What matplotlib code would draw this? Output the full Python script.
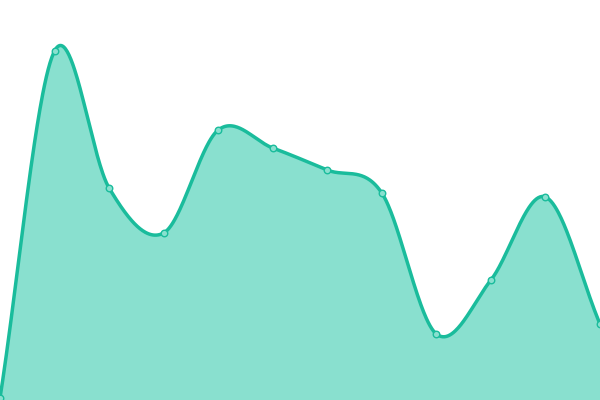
import numpy as np
import matplotlib
matplotlib.use("Agg")
import matplotlib.pyplot as plt

categories = list(range(12))
values = [2, 349, 212, 167, 270, 252, 230, 207, 66, 120, 203, 76]

LINE = "#1abc9c"
FILL = "#89e0cf"

def catmull_rom(xs, ys, n=60):
    xs = np.asarray(xs, float); ys = np.asarray(ys, float)
    ox, oy = [], []
    N = len(xs)
    for i in range(N - 1):
        p0 = i - 1 if i > 0 else i
        p3 = i + 2 if i + 2 < N else i + 1
        mx1 = (xs[i + 1] - xs[p0]) / 2 if i > 0 else (xs[i + 1] - xs[i])
        my1 = (ys[i + 1] - ys[p0]) / 2 if i > 0 else (ys[i + 1] - ys[i])
        mx2 = (xs[p3] - xs[i]) / 2 if i + 2 < N else (xs[i + 1] - xs[i])
        my2 = (ys[p3] - ys[i]) / 2 if i + 2 < N else (ys[i + 1] - ys[i])
        t = np.linspace(0, 1, n, endpoint=(i == N - 2))
        h00 = 2*t**3 - 3*t**2 + 1
        h10 = t**3 - 2*t**2 + t
        h01 = -2*t**3 + 3*t**2
        h11 = t**3 - t**2
        ox.append(h00*xs[i] + h10*mx1 + h01*xs[i+1] + h11*mx2)
        oy.append(h00*ys[i] + h10*my1 + h01*ys[i+1] + h11*my2)
    return np.concatenate(ox), np.concatenate(oy)

sx, sy = catmull_rom(categories, values)

fig = plt.figure(figsize=(6, 4), dpi=100)
ax = fig.add_axes([0, 0, 1, 1])
ax.fill_between(sx, sy, 0, color=FILL, lw=0, zorder=1)
ax.plot(sx, sy, color=LINE, lw=2.5, zorder=2, solid_capstyle="round")
ax.scatter(categories, values, s=22, facecolor=FILL, edgecolor=LINE, linewidth=1, zorder=3, clip_on=False)
ax.set_xlim(0, 11)
ax.set_ylim(0, 400)
ax.axis("off")
fig.savefig("out.png", dpi=100)
